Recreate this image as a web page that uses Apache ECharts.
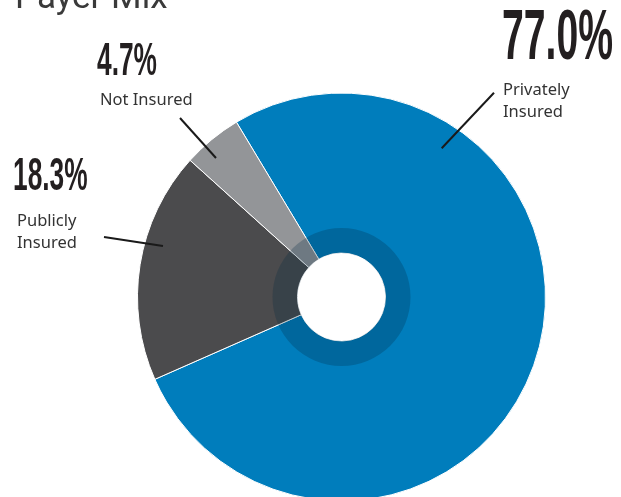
<!DOCTYPE html>
<html>
<head>
<meta charset="utf-8">
<script src="https://cdn.jsdelivr.net/npm/echarts@6/dist/echarts.min.js"></script>
<style>html,body{margin:0;padding:0;background:#fff;}#c{width:621px;height:497px;}</style>
</head>
<body>
<div id="c"></div>
<script>
const categories = ['Privately Insured', 'Publicly Insured', 'Not Insured'];
const labelTexts = [['Privately', 'Insured'], ['Publicly', 'Insured'], ['Not Insured']];
const values = [77.0, 18.3, 4.7];
const titleText = 'Payer Mix';

const colors = ['#007dbc', '#4b4b4d', '#939598'];
const center = [341.5, 297];

// annotation layout (label positions, leader lines)
const bigPos = [{x: 502, y: 5, size: 70}, {x: 13, y: 154, size: 47}, {x: 97, y: 39, size: 47}];
const smallPos = [{x: 503, y: 79}, {x: 17, y: 210}, {x: 100, y: 89}];
const leaders = [[441.7, 148.3, 494, 92.7], [163, 246, 104, 237], [216, 158, 180, 118]];

const chart = echarts.init(document.getElementById('c'), null, {renderer: 'canvas'});

const graphics = [];
values.forEach((v, i) => {
  graphics.push({
    type: 'text', x: bigPos[i].x, y: bigPos[i].y, scaleX: 0.56, z: 10,
    style: {text: v.toFixed(1) + '%', font: 'bold ' + bigPos[i].size + 'px "Liberation Sans"',
      fill: '#231f20', textAlign: 'left', textVerticalAlign: 'top'}
  });
  graphics.push({
    type: 'text', x: smallPos[i].x, y: smallPos[i].y, z: 10,
    style: {text: labelTexts[i].join('\n'), font: '16.5px "Noto Sans"', lineHeight: 22,
      fill: '#333333', textAlign: 'left', textVerticalAlign: 'top'}
  });
  const l = leaders[i];
  graphics.push({
    type: 'line', z: 10,
    shape: {x1: l[0], y1: l[1], x2: l[2], y2: l[3]},
    style: {stroke: '#1a1a1a', lineWidth: 2}
  });
});
graphics.push({
  type: 'text', x: 15, y: 17, z: 10,
  style: {text: titleText, font: '35px Roboto', fill: '#3a3a3a', textAlign: 'left', textVerticalAlign: 'bottom'}
});

chart.setOption({
  animation: false,
  series: [
    {
      type: 'pie',
      center: center,
      radius: [44, 204],
      startAngle: 121,
      clockwise: true,
      label: {show: false},
      labelLine: {show: false},
      itemStyle: {borderColor: '#ffffff', borderWidth: 1},
      emphasis: {disabled: true},
      data: categories.map((c, i) => ({name: c, value: values[i], itemStyle: {color: colors[i]}}))
    },
    {
      type: 'pie',
      center: center,
      radius: [44, 69],
      silent: true,
      label: {show: false},
      labelLine: {show: false},
      itemStyle: {color: 'rgba(0,38,65,0.25)', borderWidth: 0},
      emphasis: {disabled: true},
      data: [{name: 'ring', value: 1}]
    }
  ],
  graphic: graphics
});
</script>
</body>
</html>
